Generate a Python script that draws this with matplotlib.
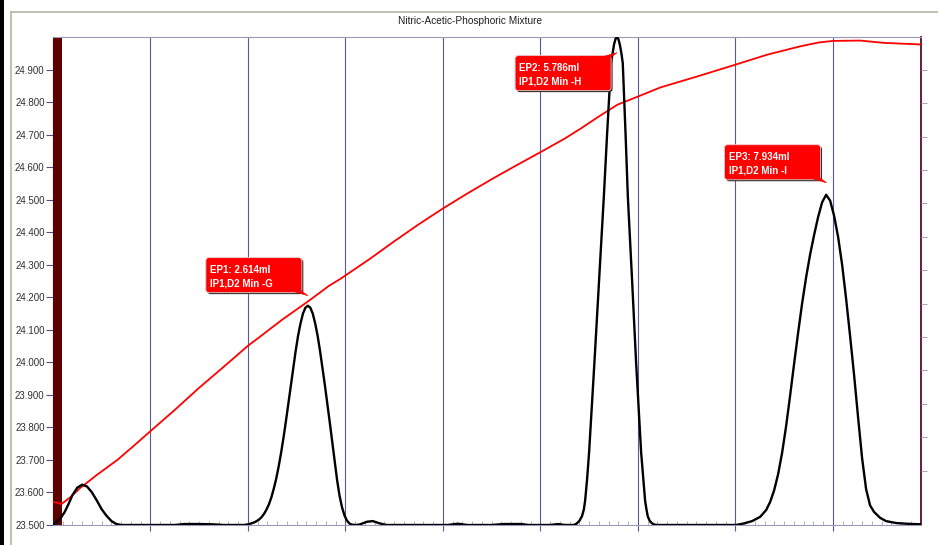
import numpy as np
import matplotlib
matplotlib.use("Agg")
import matplotlib.pyplot as plt
from matplotlib.patches import FancyBboxPatch, Polygon, Rectangle
from matplotlib.lines import Line2D
from matplotlib.transforms import IdentityTransform
from matplotlib.ticker import MultipleLocator, FixedLocator

# ---------------- data ----------------
title = "Nitric-Acetic-Phosphoric Mixture"

# titration curve (red)
curve_vol = [0.00, 0.09, 0.18, 0.28, 0.45, 0.66, 0.85, 0.99, 1.25, 1.50, 1.75, 2.00,
             2.12, 2.35, 2.61, 2.83, 2.95, 3.25, 3.50, 3.75, 4.00, 4.25, 4.50, 4.75,
             5.00, 5.25, 5.41, 5.60, 5.79, 6.00, 6.23, 6.60, 7.00, 7.33, 7.66, 7.85,
             8.00, 8.28, 8.52, 8.90]
curve_val = [23.571, 23.565, 23.586, 23.614, 23.654, 23.700, 23.749, 23.786, 23.854,
             23.922, 23.986, 24.051, 24.078, 24.131, 24.186, 24.235, 24.257, 24.318,
             24.372, 24.424, 24.473, 24.519, 24.563, 24.605, 24.646, 24.688, 24.718,
             24.756, 24.792, 24.817, 24.845, 24.878, 24.915, 24.946, 24.971, 24.983,
             24.988, 24.989, 24.982, 24.977]

# derivative curve (black)
deriv_vol = [0.00, 0.04, 0.08, 0.12, 0.16, 0.20, 0.25, 0.30, 0.35, 0.40, 0.45, 0.50,
             0.55, 0.60, 0.65, 0.70, 1.25, 1.35, 1.50, 1.65, 1.75,
             # peak 1
             1.964, 2.014, 2.064, 2.089, 2.114, 2.139, 2.164, 2.189, 2.214, 2.239, 2.264,
             2.289, 2.314, 2.339, 2.364, 2.389, 2.414, 2.439, 2.464, 2.489, 2.514, 2.539,
             2.564, 2.589, 2.614, 2.639, 2.664, 2.689, 2.714, 2.739, 2.764, 2.789, 2.814,
             2.839, 2.864, 2.889, 2.914, 2.939, 2.964, 2.989, 3.014, 3.039, 3.064, 3.114,
             # small bumps
             3.15, 3.22, 3.28, 3.35, 3.42, 4.05, 4.15, 4.25, 4.50, 4.62, 4.80, 4.88, 5.10,
             5.18, 5.25,
             # peak 2
             5.34, 5.37, 5.40, 5.427, 5.445, 5.458, 5.478, 5.499, 5.553, 5.601, 5.650,
             5.683, 5.724, 5.755, 5.770, 5.786, 5.800, 5.815, 5.830, 5.844, 5.873, 5.896,
             5.940, 5.981, 6.032, 6.073, 6.087, 6.101, 6.120, 6.140, 6.170, 6.200,
             # peak 3
             6.95, 7.007, 7.089, 7.171, 7.253, 7.315, 7.356, 7.397, 7.438, 7.479, 7.520,
             7.561, 7.602, 7.643, 7.684, 7.725, 7.766, 7.807, 7.848, 7.889, 7.930, 7.971,
             8.012, 8.053, 8.094, 8.135, 8.176, 8.217, 8.258, 8.299, 8.340, 8.381, 8.422,
             8.484, 8.545, 8.648, 8.750, 8.900]
deriv_val = [23.500, 23.510, 23.522, 23.540, 23.565, 23.592, 23.615, 23.624, 23.618,
             23.600, 23.575, 23.548, 23.528, 23.512, 23.503, 23.500, 23.500, 23.503,
             23.503, 23.502, 23.500,
             # peak 1
             23.500, 23.503, 23.508, 23.512, 23.517, 23.524, 23.534, 23.547, 23.563,
             23.584, 23.611, 23.642, 23.679, 23.721, 23.768, 23.819, 23.873, 23.929,
             23.983, 24.035, 24.082, 24.120, 24.150, 24.168, 24.174, 24.168, 24.150,
             24.120, 24.082, 24.035, 23.983, 23.929, 23.873, 23.815, 23.755, 23.697,
             23.638, 23.590, 23.555, 23.530, 23.514, 23.505, 23.501, 23.500,
             # small bumps
             23.502, 23.510, 23.512, 23.505, 23.500, 23.500, 23.504, 23.500, 23.500,
             23.503, 23.503, 23.500, 23.500, 23.503, 23.500,
             # peak 2
             23.500, 23.504, 23.513, 23.528, 23.548, 23.575, 23.640, 23.725, 23.998,
             24.250, 24.510, 24.700, 24.920, 24.978, 24.994, 25.000, 24.993, 24.975,
             24.950, 24.920, 24.700, 24.510, 24.250, 23.998, 23.725, 23.575, 23.548,
             23.526, 23.513, 23.506, 23.501, 23.500,
             # peak 3
             23.500, 23.500, 23.505, 23.512, 23.525, 23.546, 23.571, 23.607, 23.657,
             23.723, 23.805, 23.899, 23.997, 24.092, 24.182, 24.262, 24.332, 24.392,
             24.447, 24.492, 24.515, 24.497, 24.450, 24.385, 24.300, 24.195, 24.080,
             23.960, 23.830, 23.705, 23.610, 23.560, 23.540, 23.522, 23.512, 23.506,
             23.504, 23.502]

predose_end = 0.09

ep_volumes = [2.614, 5.786, 7.934]
ep_tip_values = [24.205, 24.952, 24.552]
ep_labels = [["EP1: 2.614ml", "IP1,D2 Min -G"],
             ["EP2: 5.786ml", "IP1,D2 Min -H"],
             ["EP3: 7.934ml", "IP1,D2 Min -I"]]
ep_box_above = [True, False, True]

y_ticks = [23.5, 23.6, 23.7, 23.8, 23.9, 24.0, 24.1, 24.2, 24.3, 24.4, 24.5, 24.6,
           24.7, 24.8, 24.9]

# ---------------- figure ----------------
W, H = 938, 545
fig = plt.figure(figsize=(W / 100, H / 100), dpi=100)
fig.patch.set_facecolor("white")

ax = fig.add_axes([53 / W, 20 / H, 868 / W, 488 / H])
ax.set_xlim(0, 8.903)
ax.set_ylim(23.5, 25.0)

ax.axvspan(0, predose_end, color="#5c0000", zorder=1, lw=0)
ax.plot(curve_vol, curve_val, color="#ff0000", lw=1.3, zorder=3, solid_joinstyle="round")
ax.plot(deriv_vol, deriv_val, color="#000000", lw=1.7, zorder=4, solid_joinstyle="round")

# axes styling
ax.xaxis.set_major_locator(FixedLocator([1, 2, 3, 4, 5, 6, 7, 8]))
ax.xaxis.set_minor_locator(MultipleLocator(0.1))
ax.tick_params(axis="x", which="major", direction="out", length=4, color="#5a5a9a",
               labelbottom=False)
ax.tick_params(axis="x", which="minor", direction="in", length=3, color="#a0a0c0")
ax.grid(axis="x", which="major", color="#5a5a9a", lw=0.8, zorder=0)

ax.yaxis.set_major_locator(FixedLocator(y_ticks))
ax.set_yticklabels([f"{v:.3f}" for v in y_ticks])
ax.tick_params(axis="y", which="major", direction="out", length=5, width=0.8,
               color="#50508a", pad=1, labelsize=7.0, labelcolor="#303030")
for lab in ax.get_yticklabels():
    lab.set_family("Liberation Sans")

ax.spines["top"].set_color("#9a9ab8")
ax.spines["bottom"].set_color("#9a9ab8")
ax.spines["left"].set_color("#5c0000")
ax.spines["right"].set_color("#6a1a3a")
ax.spines["right"].set_linewidth(1.4)

ax2 = ax.twinx()
ax2.set_ylim(-0.626, 13.985)
ax2.set_yticks(list(range(1, 14)))
ax2.tick_params(axis="y", direction="out", length=4, color="#a8a8b8", labelright=False)
for s in ax2.spines.values():
    s.set_visible(False)

# outer frame
fig.add_artist(Rectangle((0, 0), 3.5 / W, 1, transform=fig.transFigure, color="black", lw=0))
fig.add_artist(Line2D([10.5 / W, 10.5 / W], [0, 1 - 11.5 / H], transform=fig.transFigure,
                      color="#b4b4a6", lw=1.2))
fig.add_artist(Line2D([10.5 / W, 1], [1 - 11.5 / H, 1 - 11.5 / H], transform=fig.transFigure,
                      color="#b4b4a6", lw=1.2))

fig.text(470 / W, 1 - 21 / H, title, ha="center", va="center", fontsize=7.3,
         family="Liberation Sans", color="#202020")

# callouts
ident = IdentityTransform()
bw, bh = 96, 35
for vol, tipv, lines, above in zip(ep_volumes, ep_tip_values, ep_labels, ep_box_above):
    tx, ty = ax.transData.transform((vol, tipv))
    bx1 = tx - 6
    bx0 = bx1 - bw
    if above:
        by0 = ty + 3
    else:
        by0 = ty - 3 - bh
    by1 = by0 + bh
    shadow = FancyBboxPatch((bx0 + 1.5, by0 - 1.5), bw, bh,
                            boxstyle="round,pad=0,rounding_size=3",
                            transform=ident, fc="#303030", ec="none", zorder=5)
    box = FancyBboxPatch((bx0, by0), bw, bh, boxstyle="round,pad=0,rounding_size=3",
                         transform=ident, fc="#ff0000", ec="#e8c8c8", lw=0.6, zorder=6)
    if above:
        tri = [(tx, ty), (bx1 - 11, by0 + 2), (bx1 - 1, by0 + 2)]
    else:
        tri = [(tx, ty), (bx1 - 11, by1 - 2), (bx1 - 1, by1 - 2)]
    wedge = Polygon(tri, closed=True, transform=ident, fc="#ff0000", ec="#ff0000",
                    lw=0.5, zorder=6)
    fig.add_artist(shadow)
    fig.add_artist(box)
    fig.add_artist(wedge)
    for i, line in enumerate(lines):
        t = fig.text(bx0 + 4, by1 - 12 - 14 * i, line, transform=ident, ha="left",
                     va="center", fontsize=7, fontweight="bold", color="white",
                     family="Liberation Sans")
        t.set_zorder(7)

fig.savefig("out.png", dpi=100)
